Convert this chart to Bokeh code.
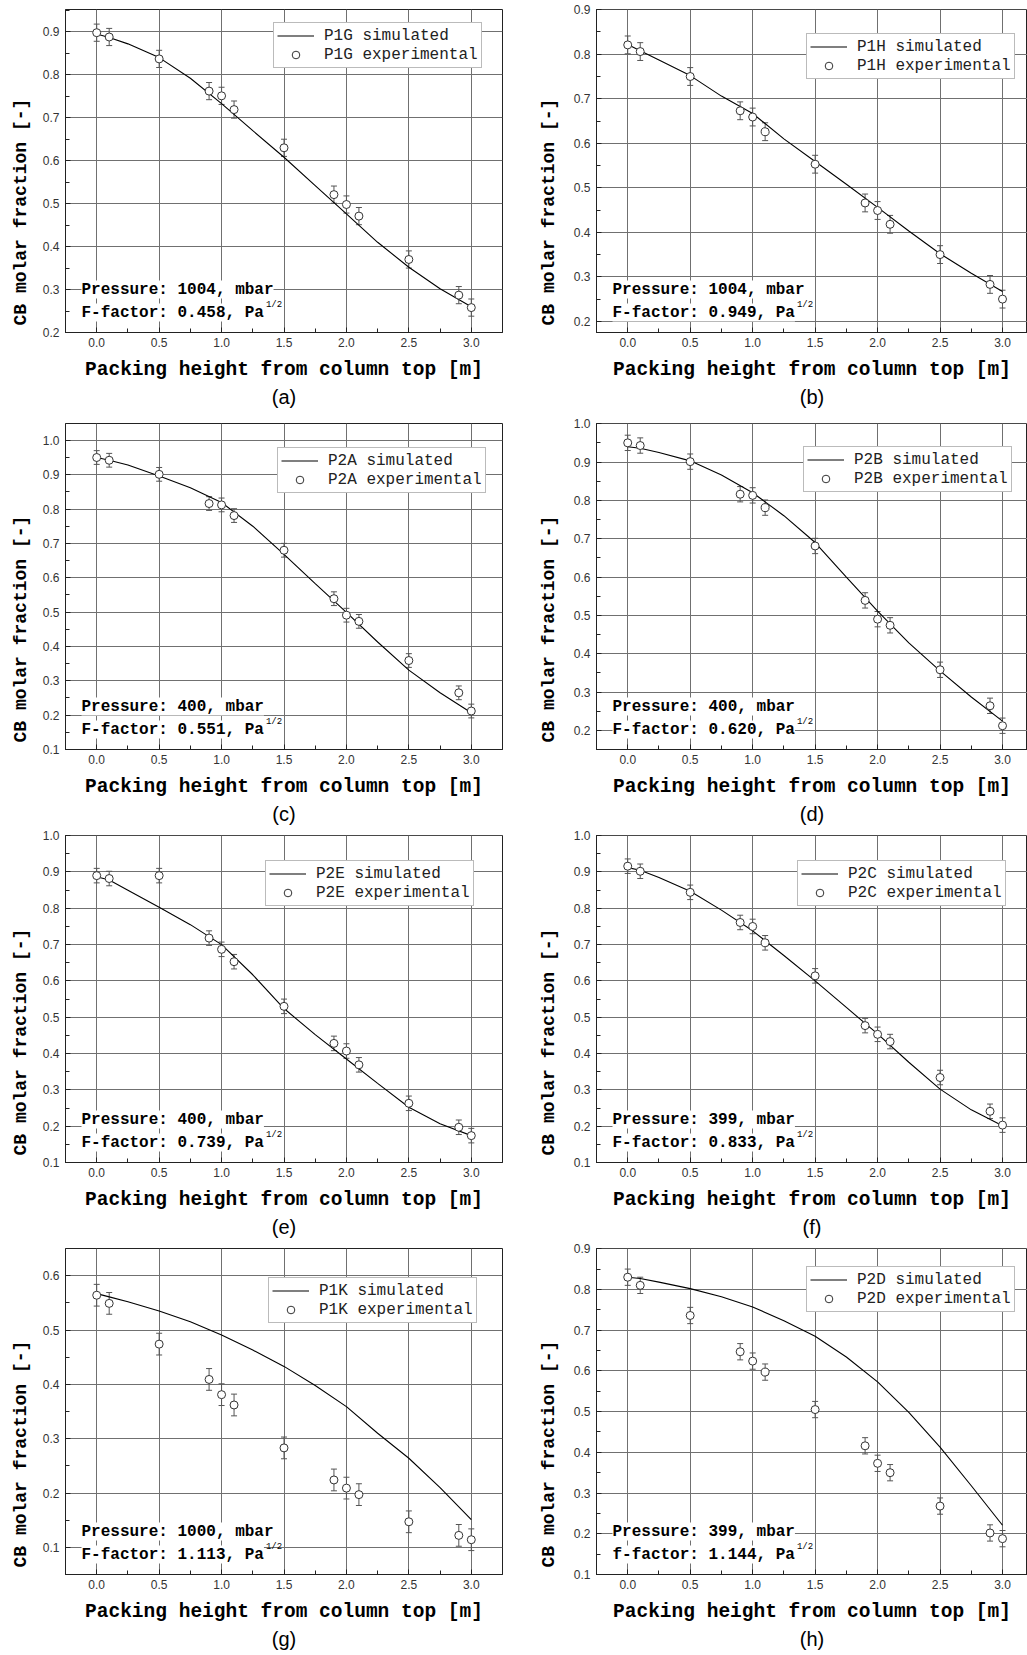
from bokeh.plotting import figure
from bokeh.layouts import gridplot
from bokeh.models import (ColumnDataSource, Whisker, TeeHead, Legend, LegendItem, Label, Title,
                          Range1d, SingleIntervalTicker, PrintfTickFormatter)
from bokeh.core.properties import value
from bokeh.embed import file_html
from bokeh.resources import INLINE

# ---------------- data ----------------
x_exp = [0.0, 0.1, 0.5, 0.9, 1.0, 1.1, 1.5, 1.9, 2.0, 2.1, 2.5, 2.9, 3.0]
x_sim = [0.0, 0.1, 0.25, 0.5, 0.75, 1.0, 1.25, 1.5, 1.75, 2.0, 2.25, 2.5, 2.75, 3.0]
err = 0.02

exp_P1G = [0.898, 0.888, 0.837, 0.762, 0.751, 0.719, 0.630, 0.521, 0.498, 0.471, 0.370, 0.287, 0.258]
sim_P1G = [0.895, 0.887, 0.872, 0.840, 0.792, 0.733, 0.670, 0.608, 0.542, 0.476, 0.410, 0.352, 0.302, 0.260]

exp_P1H = [0.821, 0.806, 0.750, 0.673, 0.659, 0.626, 0.553, 0.466, 0.449, 0.418, 0.350, 0.283, 0.250]
sim_P1H = [0.822, 0.808, 0.787, 0.752, 0.706, 0.667, 0.610, 0.559, 0.508, 0.456, 0.403, 0.352, 0.308, 0.267]

exp_P2A = [0.950, 0.942, 0.901, 0.816, 0.812, 0.781, 0.680, 0.539, 0.491, 0.473, 0.359, 0.265, 0.212]
sim_P2A = [0.950, 0.942, 0.928, 0.896, 0.862, 0.819, 0.750, 0.668, 0.583, 0.499, 0.413, 0.331, 0.265, 0.207]

exp_P2B = [0.950, 0.943, 0.901, 0.816, 0.813, 0.781, 0.681, 0.539, 0.490, 0.474, 0.358, 0.264, 0.212]
sim_P2B = [0.940, 0.936, 0.925, 0.903, 0.866, 0.820, 0.760, 0.690, 0.600, 0.511, 0.428, 0.355, 0.287, 0.224]

exp_P2E = [0.890, 0.882, 0.890, 0.718, 0.687, 0.653, 0.530, 0.428, 0.407, 0.369, 0.263, 0.197, 0.174]
sim_P2E = [0.887, 0.878, 0.850, 0.803, 0.755, 0.700, 0.617, 0.524, 0.452, 0.385, 0.318, 0.252, 0.207, 0.174]

exp_P2C = [0.916, 0.902, 0.844, 0.761, 0.750, 0.705, 0.614, 0.477, 0.453, 0.433, 0.334, 0.241, 0.203]
sim_P2C = [0.912, 0.905, 0.885, 0.847, 0.795, 0.738, 0.670, 0.600, 0.527, 0.454, 0.376, 0.302, 0.245, 0.201]

exp_P1K = [0.564, 0.549, 0.474, 0.409, 0.381, 0.362, 0.283, 0.224, 0.209, 0.197, 0.147, 0.122, 0.114]
sim_P1K = [0.567, 0.561, 0.552, 0.535, 0.515, 0.491, 0.463, 0.433, 0.398, 0.359, 0.310, 0.264, 0.210, 0.151]

exp_P2D = [0.830, 0.810, 0.736, 0.647, 0.624, 0.597, 0.505, 0.416, 0.373, 0.350, 0.268, 0.202, 0.188]
sim_P2D = [0.830, 0.827, 0.818, 0.802, 0.782, 0.757, 0.723, 0.685, 0.634, 0.573, 0.498, 0.413, 0.318, 0.221]

x_title = "Packing height from column top [m]"
y_title = "CB molar fraction [-]"

panels = [
    dict(code="P1G", cap="(a)", pres="1004", ff="0.458", fl="F", exp=exp_P1G, sim=sim_P1G, y0=0.2, y1=0.952),
    dict(code="P1H", cap="(b)", pres="1004", ff="0.949", fl="F", exp=exp_P1H, sim=sim_P1H, y0=0.175, y1=0.9005),
    dict(code="P2A", cap="(c)", pres="400", ff="0.551", fl="F", exp=exp_P2A, sim=sim_P2A, y0=0.1, y1=1.049),
    dict(code="P2B", cap="(d)", pres="400", ff="0.620", fl="F", exp=exp_P2B, sim=sim_P2B, y0=0.15, y1=1.0005),
    dict(code="P2E", cap="(e)", pres="400", ff="0.739", fl="F", exp=exp_P2E, sim=sim_P2E, y0=0.1, y1=1.0005),
    dict(code="P2C", cap="(f)", pres="399", ff="0.833", fl="F", exp=exp_P2C, sim=sim_P2C, y0=0.1, y1=1.0005),
    dict(code="P1K", cap="(g)", pres="1000", ff="1.113", fl="F", exp=exp_P1K, sim=sim_P1K, y0=0.05, y1=0.65),
    dict(code="P2D", cap="(h)", pres="399", ff="1.144", fl="f", exp=exp_P2D, sim=sim_P2D, y0=0.1, y1=0.9005),
]

# ---------------- layout (pixels) ----------------
# (figure height, border top, border bottom, legend left offset, legend top offset)
layout = [
    (413, 9, 81, 208, 15), (413, 8, 79, 210, 29),
    (413, 10, 77, 212, 26), (413, 10, 77, 207, 25),
    (413, 9, 77, 200, 27), (413, 9, 77, 201, 27),
    (416, 9, 81, 203, 31), (416, 9, 81, 210, 20),
]

MONO = "Liberation Mono"
SANS = "Liberation Sans"
DARK = "#222222"
LEG_H = 44


def make_panel(i, cfg):
    right = (i % 2 == 1)
    h, bt, bb, lx, lt = layout[i]
    w = 514 if right else 513
    bl = 83 if right else 64
    br = 0 if right else 11
    frame_h = h - bt - bb
    p = figure(width=w, height=h, output_backend="svg", toolbar_location=None,
               x_range=Range1d(-0.25, 3.2 if right else 3.25),
               y_range=Range1d(cfg["y0"], cfg["y1"]),
               min_border_left=bl, min_border_right=br,
               min_border_top=bt, min_border_bottom=bb,
               title=cfg["cap"], title_location="below")
    p.background_fill_color = "white"
    p.border_fill_color = "white"
    p.outline_line_color = DARK
    p.outline_line_width = 1

    p.title.text_font = SANS
    p.title.text_font_style = "normal"
    p.title.text_font_size = "20px"
    p.title.align = "center"
    p.title.text_color = "black"
    p.title.standoff = 0

    p.xaxis.ticker = SingleIntervalTicker(interval=0.5, num_minor_ticks=2)
    p.yaxis.ticker = SingleIntervalTicker(interval=0.1, num_minor_ticks=2)
    p.axis.formatter = PrintfTickFormatter(format="%.1f")
    for ax in (p.xaxis, p.yaxis):
        ax.major_tick_in = 5
        ax.major_tick_out = 0
        ax.minor_tick_in = 4
        ax.minor_tick_out = 0
        ax.axis_line_color = DARK
        ax.major_tick_line_color = DARK
        ax.minor_tick_line_color = DARK
        ax.major_label_text_font = SANS
        ax.major_label_text_font_size = "12px"
        ax.major_label_text_color = "#333333"
    p.xaxis.axis_label = x_title
    p.xaxis.axis_label_text_font = MONO
    p.xaxis.axis_label_text_font_style = "bold"
    p.xaxis.axis_label_text_color = "black"
    p.xaxis.axis_label_text_font_size = "19.5px"
    p.xaxis.major_label_standoff = 5
    p.xaxis.axis_label_standoff = 9
    p.yaxis.major_label_standoff = 6

    # y title as a side title, so that it can sit lower than the frame centre as in the original
    yt = Title(text=y_title, align="left", offset=7, standoff=(23 if right else 17),
               vertical_align="bottom", text_font=MONO, text_font_style="bold",
               text_font_size="18px", text_color="black")
    p.add_layout(yt, "left")

    p.grid.grid_line_color = "#707070"
    p.grid.grid_line_width = 1

    ys = cfg["exp"]
    src = ColumnDataSource(dict(x=x_exp, y=ys,
                                upper=[v + err for v in ys],
                                lower=[v - err for v in ys]))
    wk = Whisker(source=src, base="x", upper="upper", lower="lower",
                 line_color="#555555", line_width=1, level="underlay",
                 upper_head=TeeHead(size=6, line_color="#555555", line_width=1),
                 lower_head=TeeHead(size=6, line_color="#555555", line_width=1))
    p.add_layout(wk)
    ln = p.line(x_sim, cfg["sim"], line_color="black", line_width=1.1)
    sc = p.scatter("x", "y", source=src, marker="circle", size=8,
                   fill_color="white", line_color="#333333", line_width=1)

    legend = Legend(items=[LegendItem(label=value(cfg["code"] + " simulated"), renderers=[ln]),
                           LegendItem(label=value(cfg["code"] + " experimental"), renderers=[sc])],
                    location=(lx, frame_h - lt - LEG_H))
    legend.label_text_font = MONO
    legend.label_text_font_size = "16px"
    legend.label_text_color = "#222222"
    legend.label_height = 19
    legend.glyph_height = 19
    legend.glyph_width = 37
    legend.label_standoff = 10
    legend.spacing = 0
    legend.padding = 3
    legend.margin = 0
    legend.border_line_color = "#777777"
    legend.border_line_width = 1
    legend.background_fill_color = "white"
    legend.background_fill_alpha = 1
    p.add_layout(legend)

    fsz = 16
    cw = 0.6 * fsz
    line1 = "Pressure: %s, mbar" % cfg["pres"]
    line2 = "%s-factor: %s, Pa" % (cfg["fl"], cfg["ff"])
    for txt, yy in ((line1, 43), (line2, 20)):
        p.add_layout(Label(x=16, y=yy, x_units="screen", y_units="screen", text=txt,
                           text_font=MONO, text_font_style="bold", text_font_size="%dpx" % fsz,
                           text_baseline="middle", text_color="black",
                           background_fill_color="white", background_fill_alpha=1))
    p.add_layout(Label(x=16 + len(line2) * cw + 2, y=28, x_units="screen", y_units="screen",
                       text="1/2", text_font=MONO, text_font_size="9px",
                       text_baseline="middle", text_color="black"))
    return p


figs = [make_panel(i, c) for i, c in enumerate(panels)]
grid = gridplot([[figs[0], figs[1]], [figs[2], figs[3]], [figs[4], figs[5]], [figs[6], figs[7]]],
                toolbar_location=None)

open("out.html", "w").write(file_html(grid, INLINE))
